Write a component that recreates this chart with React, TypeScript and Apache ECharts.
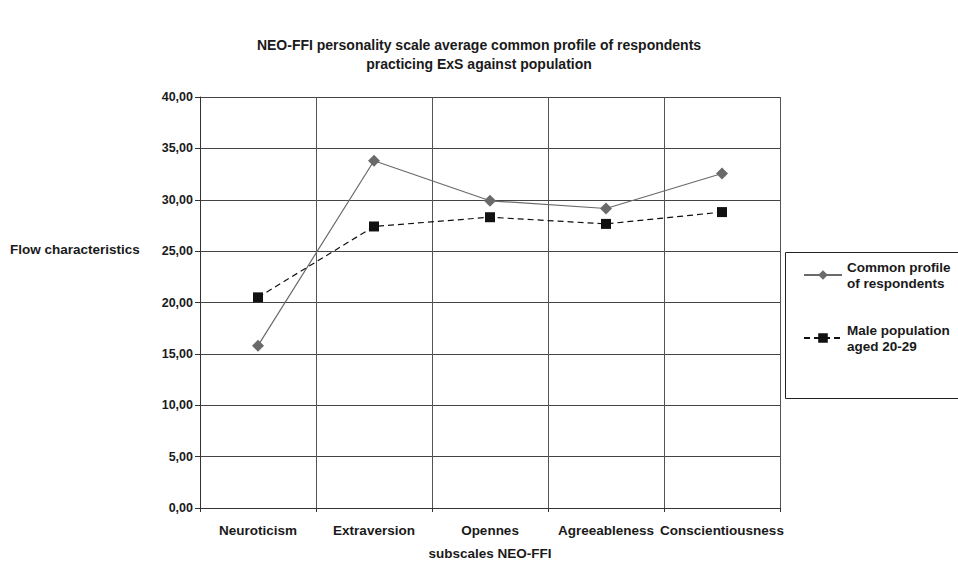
import React, { useEffect, useRef } from "react";
import * as echarts from "echarts";

const categories = ["Neuroticism", "Extraversion", "Opennes", "Agreeableness", "Conscientiousness"];
const commonProfile = [15.8, 33.8, 29.9, 29.15, 32.55];
const malePopulation = [20.5, 27.4, 28.3, 27.65, 28.8];
const seriesNames = ["Common profile\nof respondents", "Male population\naged 20-29"];

const FONT = "'Liberation Sans', Arial, sans-serif";

export default function App() {
  const ref = useRef<HTMLDivElement>(null);
  useEffect(() => {
    if (!ref.current) return;
    const chart = echarts.init(ref.current, undefined, { renderer: "svg" });
    chart.setOption({
      animation: false,
      backgroundColor: "#fff",
      textStyle: { fontFamily: FONT },
      title: {
        text: "NEO-FFI personality scale average common profile of respondents\npracticing ExS against population",
        left: "center",
        top: 30,
        textStyle: { fontSize: 14, fontWeight: "bold", color: "#1a1a1a", lineHeight: 19, fontFamily: FONT },
      },
      grid: { left: 200, right: 178, top: 97, bottom: 50 },
      xAxis: {
        type: "category",
        data: categories,
        boundaryGap: true,
        name: "subscales NEO-FFI",
        nameLocation: "middle",
        nameGap: 38,
        nameTextStyle: { fontSize: 13.5, fontWeight: "bold", color: "#1a1a1a", fontFamily: FONT },
        axisLine: { lineStyle: { color: "#333", width: 1 } },
        axisTick: { show: true, length: 4, inside: false, lineStyle: { color: "#333" } },
        axisLabel: { fontSize: 13.5, fontWeight: "bold", color: "#1a1a1a", margin: 15, interval: 0, fontFamily: FONT },
        splitLine: { show: true, lineStyle: { color: "#555", width: 1 } },
      },
      yAxis: {
        type: "value",
        min: 0,
        max: 40,
        interval: 5,
        axisLine: { show: true, lineStyle: { color: "#333", width: 1 } },
        axisTick: { show: true, length: 5, lineStyle: { color: "#333" } },
        axisLabel: {
          fontSize: 12.5,
          fontWeight: "bold",
          color: "#1a1a1a",
          margin: 7,
          fontFamily: FONT,
          formatter: (v: number) => v.toFixed(2).replace(".", ","),
        },
        splitLine: { show: true, lineStyle: { color: "#444", width: 1 } },
      },
      legend: {
        orient: "vertical",
        left: 798,
        top: 254,
        itemWidth: 38,
        itemHeight: 12,
        itemGap: 31,
        itemStyle: {},
        data: seriesNames,
        textStyle: { fontSize: 13.5, fontWeight: "bold", color: "#1a1a1a", lineHeight: 16, fontFamily: FONT },
      },
      graphic: [
        {
          type: "rect",
          shape: { x: 785.5, y: 252.5, width: 180, height: 146 },
          style: { fill: "none", stroke: "#222", lineWidth: 1 },
        },
        {
          type: "text",
          x: 10,
          y: 249,
          style: {
            text: "Flow characteristics",
            font: "bold 13.5px 'Liberation Sans', Arial, sans-serif",
            fill: "#1a1a1a",
            verticalAlign: "middle",
          },
        },
      ],
      series: [
        {
          name: seriesNames[0],
          type: "line",
          data: commonProfile,
          symbol: "diamond",
          symbolSize: 12,
          itemStyle: { color: "#6a6a6a" },
          lineStyle: { color: "#6a6a6a", width: 1.2 },
        },
        {
          name: seriesNames[1],
          type: "line",
          data: malePopulation,
          symbol: "rect",
          symbolSize: 10,
          itemStyle: { color: "#111" },
          lineStyle: { color: "#111", width: 1.2, type: [6, 4] },
        },
      ],
    });
    return () => chart.dispose();
  }, []);
  return <div ref={ref} style={{ width: 958, height: 565, position: "absolute", left: 0, top: 0 }} />;
}
